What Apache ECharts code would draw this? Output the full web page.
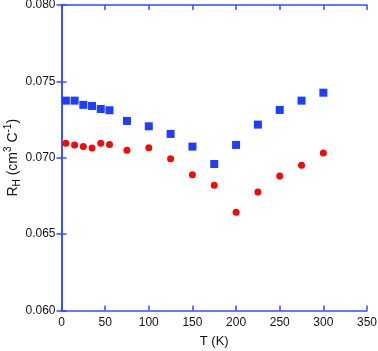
<!DOCTYPE html>
<html>
<head>
<meta charset="utf-8">
<script src="https://cdn.jsdelivr.net/npm/echarts@6/dist/echarts.min.js"></script>
<style>
  html, body { margin: 0; padding: 0; background: #fff; }
  #chart { width: 378px; height: 351px; }
</style>
</head>
<body>
<div id="chart"></div>
<script>
// temperature (K)
const temps = [5, 15, 25, 35, 45, 55, 75, 100, 125, 150, 175, 200, 225, 250, 275, 300];
// Hall coefficient, two samples
const rhBlue = [0.07374, 0.07374, 0.07346, 0.07339, 0.07319, 0.07311, 0.07241, 0.07206,
                0.07156, 0.07073, 0.06959, 0.07084, 0.07217, 0.07313, 0.07374, 0.07426];
const rhRed = [0.07095, 0.07084, 0.07073, 0.07064, 0.07095, 0.07086, 0.07049, 0.07066,
               0.06994, 0.06889, 0.06820, 0.06643, 0.06776, 0.06881, 0.06951, 0.07031];

const axisBlue = '#2e4cff';
const font = { fontFamily: 'Liberation Sans, Arial, sans-serif', fontSize: 12, color: '#111' };

const chart = echarts.init(document.getElementById('chart'));

const frameAxis = {
  axisLine: { show: true, lineStyle: { color: axisBlue, width: 1.5 } },
  axisTick: { show: true, inside: true, length: 5, lineStyle: { color: axisBlue, width: 1.5 } },
  splitLine: { show: false }
};

chart.setOption({
  animation: false,
  grid: { left: 61.5, right: 11, top: 5, bottom: 40.5, containLabel: false, outerBoundsMode: 'none' },
  xAxis: [
    Object.assign({
      type: 'value', min: 0, max: 350, interval: 50,
      name: 'T (K)', nameLocation: 'middle', nameGap: 24, nameMoveOverlap: false,
      nameTextStyle: Object.assign({}, font, { fontSize: 13 }),
      axisLabel: Object.assign({}, font, { margin: 6 })
    }, frameAxis),
    Object.assign({
      type: 'value', min: 0, max: 350, interval: 50, position: 'top',
      axisLabel: { show: false }
    }, frameAxis)
  ],
  yAxis: [
    Object.assign({
      type: 'value', min: 0.060, max: 0.080, interval: 0.005,
      name: '{m|R}{s|H}{m| (cm}{p|3}{m| C}{p|-1}{m|)}',
      nameLocation: 'middle', nameGap: 39, nameMoveOverlap: false,
      nameTextStyle: {
        rich: {
          m: Object.assign({}, font, { fontSize: 14 }),
          s: Object.assign({}, font, { fontSize: 10, padding: [0, 0, -9, 0] }),
          p: Object.assign({}, font, { fontSize: 10, padding: [0, 0, 9, 0] })
        }
      },
      axisLabel: Object.assign({}, font, { margin: 6, formatter: v => v.toFixed(3) })
    }, frameAxis),
    Object.assign({
      type: 'value', min: 0.060, max: 0.080, interval: 0.005, position: 'right',
      axisLabel: { show: false }
    }, frameAxis)
  ],
  series: [
    {
      type: 'scatter',
      symbol: 'rect',
      symbolSize: 8,
      itemStyle: { color: '#1f3dff', opacity: 1 },
      data: temps.map((t, i) => [t, rhBlue[i]])
    },
    {
      type: 'scatter',
      symbol: 'circle',
      symbolSize: 7,
      itemStyle: { color: '#f20a0a', opacity: 1 },
      data: temps.map((t, i) => [t, rhRed[i]])
    }
  ]
});
</script>
</body>
</html>
